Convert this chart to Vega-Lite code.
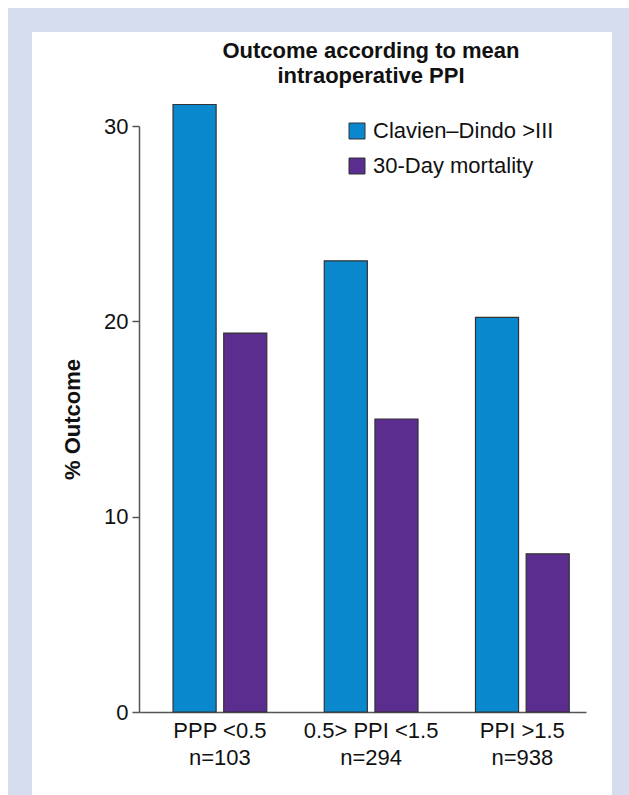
{
  "$schema": "https://vega.github.io/schema/vega-lite/v6.json",
  "width": 604,
  "height": 775,
  "autosize": {"type": "none"},
  "padding": {"left": 20, "top": 20, "right": 5, "bottom": 0},
  "background": "white",
  "config": {
    "view": {"fill": "white", "stroke": "#d5ddef", "strokeWidth": 24, "strokeDash": [1379, 604, 775], "strokeCap": "square"},
    "font": "Liberation Sans"
  },
  "title": {
    "text": ["Outcome according to mean", "intraoperative PPI"],
    "font": "Liberation Sans",
    "fontSize": 22,
    "fontWeight": "bold",
    "color": "#111111",
    "frame": "group",
    "anchor": "middle",
    "lineHeight": 25,
    "dx": 49,
    "dy": 72
  },
  "data": {
    "values": [
      {"group": "PPP <0.5|n=103", "measure": "Clavien–Dindo >III", "value": 31.1},
      {"group": "PPP <0.5|n=103", "measure": "30-Day mortality", "value": 19.4},
      {"group": "0.5> PPI <1.5|n=294", "measure": "Clavien–Dindo >III", "value": 23.1},
      {"group": "0.5> PPI <1.5|n=294", "measure": "30-Day mortality", "value": 15.0},
      {"group": "PPI >1.5|n=938", "measure": "Clavien–Dindo >III", "value": 20.2},
      {"group": "PPI >1.5|n=938", "measure": "30-Day mortality", "value": 8.1}
    ]
  },
  "mark": {"type": "bar", "stroke": "#333333", "strokeWidth": 1.2},
  "encoding": {
    "x": {
      "field": "group",
      "type": "nominal",
      "sort": null,
      "scale": {"range": [119, 566], "paddingInner": 0.38, "paddingOuter": 0.168, "align": 0.67},
      "axis": {
        "title": null,
        "orient": "bottom",
        "offset": -83,
        "ticks": false,
        "labelAngle": 0,
        "labelExpr": "split(datum.label, '|')",
        "labelFontSize": 22,
        "labelColor": "#111111",
        "labelPadding": 8,
        "labelLineHeight": 27,
        "labelLimit": 300,
        "domainColor": "#555555",
        "domainWidth": 1.5
      }
    },
    "xOffset": {
      "field": "measure",
      "type": "nominal",
      "sort": ["Clavien–Dindo >III", "30-Day mortality"],
      "scale": {"paddingInner": 0.15, "paddingOuter": 0}
    },
    "y": {
      "field": "value",
      "type": "quantitative",
      "scale": {"domain": [0, 30], "range": [692, 106], "nice": false, "zero": true},
      "axis": {
        "title": "% Outcome",
        "titleFontSize": 22,
        "titleFontWeight": "bold",
        "titleColor": "#111111",
        "titlePadding": 19,
        "offset": -119,
        "values": [0, 10, 20, 30],
        "grid": false,
        "tickSize": 7,
        "tickColor": "#555555",
        "tickWidth": 1.5,
        "domainColor": "#555555",
        "domainWidth": 1.5,
        "labelFontSize": 22,
        "labelColor": "#111111",
        "labelPadding": 4
      }
    },
    "color": {
      "field": "measure",
      "type": "nominal",
      "sort": ["Clavien–Dindo >III", "30-Day mortality"],
      "scale": {"domain": ["Clavien–Dindo >III", "30-Day mortality"], "range": ["#0a88cd", "#5a2d8f"]},
      "legend": {
        "title": null,
        "orient": "none",
        "legendX": 326,
        "legendY": 100,
        "padding": 0,
        "symbolType": "square",
        "symbolSize": 256,
        "symbolStrokeColor": "#333333",
        "symbolStrokeWidth": 1,
        "symbolOpacity": 1,
        "labelFontSize": 22,
        "labelLimit": 400,
        "labelColor": "#111111",
        "labelOffset": 5,
        "rowPadding": 13
      }
    }
  }
}
